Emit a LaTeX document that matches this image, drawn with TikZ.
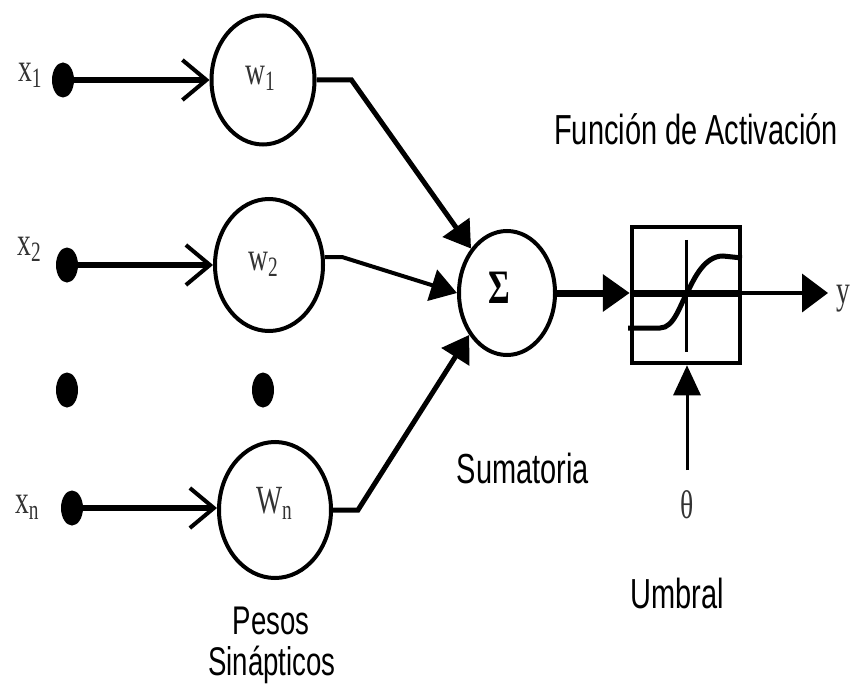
\documentclass[tikz,border=0pt]{standalone}
\usepackage{fontspec}
\usepackage{graphicx}
\setmainfont{Liberation Serif}
\setsansfont{Liberation Sans}
\usetikzlibrary{arrows.meta,shapes.geometric,calc}
\newcommand{\nrw}[1]{\scalebox{0.69}[1]{#1}}
\newcommand{\sbs}[1]{\raisebox{-6pt}{\fontsize{28}{28}\selectfont #1}}
\begin{document}
\begin{tikzpicture}[x=1pt,y=-1pt,
  dotn/.style={ellipse, fill=black, inner sep=0pt, minimum width=22pt, minimum height=35pt},
  wcirc/.style={ellipse, draw, line width=4pt, inner sep=0pt},
  lbl/.style={font=\sffamily\fontsize{42}{42}\selectfont, inner sep=0pt},
  slbl/.style={font=\fontsize{40}{40}\selectfont, text=black!80, inner sep=0pt},
  inarrow/.style={line width=6pt, -{Straight Barb[length=24pt,width=40pt,line width=4pt]}},
  sarrow/.style={line width=5pt, -{Triangle[length=26pt,width=32pt]}}
]
\fill[white] (0,0) rectangle (856,687);
\useasboundingbox (0,0) rectangle (856,687);

% texts
\node[lbl, anchor=base] (fa) at (696,145) {\nrw{Función de Activación}};
\node[lbl, anchor=base] (sum) at (523,483) {\nrw{Sumatoria}};
\node[lbl, anchor=base] (umb) at (677,608) {\nrw{Umbral}};
\node[lbl, font=\sffamily\fontsize{40}{40}\selectfont, anchor=base] (pes) at (271,634) {\nrw{Pesos}};
\node[lbl, font=\sffamily\fontsize{40}{40}\selectfont, anchor=base] (sin) at (272,675) {\nrw{Sinápticos}};

% input labels
\node[slbl, anchor=base west] (x1) at (18,82) {\nrw{x\sbs{1}}};
\node[slbl, anchor=base west] (x2) at (17,255) {\nrw{x\sbs{2}}};
\node[slbl, anchor=base west] (xn) at (15,513) {\nrw{x\sbs{n}}};

% dots
\node[dotn] (d1) at (63,80) {};
\node[dotn] (d2) at (67,265) {};
\node[dotn] (d3) at (67,390) {};
\node[dotn] (d4) at (263,390) {};
\node[dotn] (dn) at (72,508) {};

% weight circles
\node[wcirc, minimum width=103pt, minimum height=129pt] (c1) at (263,80) {};
\node[wcirc, minimum width=108pt, minimum height=132pt] (c2) at (269,265) {};
\node[wcirc, minimum width=112pt, minimum height=136pt] (cn) at (275,510) {};
\node[slbl, anchor=base] (w1) at (260,85) {\nrw{w\sbs{1}}};
\node[slbl, anchor=base] (w2) at (263,270) {\nrw{w\sbs{2}}};
\node[slbl, anchor=base] (wn) at (274,513) {\nrw{W\sbs{n}}};

% summation
\node[wcirc, minimum width=96pt, minimum height=124pt] (sig) at (507,293) {};
\node[slbl, font=\bfseries\fontsize{48}{48}\selectfont, text=black, anchor=base] (sg) at (499,303) {\nrw{Σ}};

% activation box
\node[draw, line width=4.5pt, minimum width=108pt, minimum height=136pt, inner sep=0pt] (box) at (686,295) {};
\node[slbl, anchor=base west] (ylab) at (836,303) {\nrw{y}};
\coordinate (yarr) at (828,293);
\node[slbl, anchor=base] (th) at (687,518) {\nrw{θ}};
\coordinate (tht) at (687,470);

% input connectors
\draw[inarrow] (d1) -- (d1 -| c1.west);
\draw[inarrow] (d2) -- (d2 -| c2.west);
\draw[inarrow] (dn) -- (dn -| cn.west);

% weights to summation
\draw[sarrow] (c1.east) -- ++(35,0) -- (sig.129);
\draw[sarrow, line width=4pt] (c2.8) -- ++(18,0) -- (sig.180);
\draw[sarrow] (cn.east) -- ++(25,0) -- (sig.228);

% summation to activation
\draw[line width=7pt, -{Triangle[length=27pt,width=36pt]}] (sig.east) -- (sig.east -| box.west);
\draw[line width=7pt] (sig.east -| box.west) -- (sig.east -| box.east);
\draw[line width=4pt, -{Triangle[length=26pt,width=38pt]}] (sig.east -| box.east) -- (yarr);

% inside the box
\draw[line width=3pt] ([yshift=-15pt]box.north) -- ([yshift=13pt]box.south);
\draw[line width=5pt] ($(box.center)+(-58,33)$) -- ($(box.center)+(-26,33)$)
  .. controls ($(box.center)+(-12,33)$) and ($(box.center)+(-6,10)$) .. ($(box.center)+(1,-2)$)
  .. controls ($(box.center)+(8,-16)$) and ($(box.center)+(18,-39)$) .. ($(box.center)+(37,-39)$)
  -- ($(box.center)+(56,-37)$);

% threshold
\draw[line width=3pt, -{Triangle[length=30pt,width=27pt]}] (tht) -- (tht |- box.south);
\end{tikzpicture}
\end{document}
